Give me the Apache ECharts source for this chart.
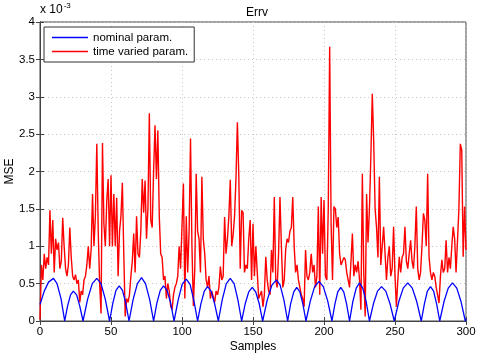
<!DOCTYPE html>
<html>
<head>
<meta charset="utf-8">
<script src="https://cdn.jsdelivr.net/npm/echarts@6/dist/echarts.min.js"></script>
<style>
  html, body { margin: 0; padding: 0; background: #fff; }
  #chart { width: 484px; height: 360px; }
</style>
</head>
<body>
<div id="chart"></div>
<script>
// values are in units of 1e-3 (axis shows "x 10^-3")
var legendNames = ['nominal param.', 'time varied param.'];
var xTicks = [0, 50, 100, 150, 200, 250, 300];

// nominal param.: [sample, MSE] read at the valleys, flanks and tops of each hump
var nominalPts = [
    [0, 0.22], [3, 0.4], [6, 0.52], [9.5, 0.57], [12, 0.5], [14.8, 0.3], [17.4, 0],
    [19.4, 0.2], [21.5, 0.35], [23.5, 0.4], [25.8, 0.35], [28, 0.2], [30.3, 0],
    [33.5, 0.29], [36.8, 0.5], [40, 0.57], [43, 0.5], [46, 0.29], [49, 0],
    [51.3, 0.24], [53.5, 0.41], [55.8, 0.47], [58.1, 0.41], [60.4, 0.24], [62.7, 0],
    [65.6, 0.29], [68.6, 0.5], [71.5, 0.58], [74.3, 0.5], [77.2, 0.29], [80, 0],
    [82.3, 0.24], [84.7, 0.41], [87, 0.47], [89.5, 0.41], [92, 0.24], [94.4, 0],
    [97.3, 0.28], [100.1, 0.49], [103, 0.56], [105.7, 0.49], [108.3, 0.28], [111, 0],
    [113.3, 0.23], [115.7, 0.4], [118, 0.46], [120.5, 0.4], [123, 0.23], [125.6, 0],
    [128.4, 0.29], [131.2, 0.5], [134, 0.57], [136.7, 0.5], [139.3, 0.29], [142, 0],
    [144.5, 0.23], [147, 0.39], [149.5, 0.45], [151.9, 0.39], [154.4, 0.23], [156.8, 0],
    [160, 0.28], [163.3, 0.48], [166.5, 0.55], [169.1, 0.48], [171.8, 0.28], [174.4, 0],
    [176.5, 0.23], [178.7, 0.39], [180.8, 0.45], [183, 0.39], [185.1, 0.23], [187.3, 0],
    [190.4, 0.27], [193.4, 0.46], [196.5, 0.53], [199.5, 0.46], [202.6, 0.27], [205.6, 0],
    [207.7, 0.23], [209.7, 0.39], [211.8, 0.45], [213.9, 0.39], [215.9, 0.23], [218, 0],
    [220.3, 0.26], [222.7, 0.44], [225, 0.51], [227.3, 0.44], [229.7, 0.26], [232, 0],
    [234.8, 0.23], [237.7, 0.4], [240.5, 0.46], [243.5, 0.4], [246.5, 0.23], [249.5, 0],
    [252.7, 0.26], [255.8, 0.44], [259, 0.51], [262.2, 0.44], [265.3, 0.26], [268.5, 0],
    [270.7, 0.23], [272.8, 0.4], [275, 0.46], [277.2, 0.4], [279.3, 0.23], [281.5, 0],
    [284.5, 0.26], [287.5, 0.44], [290.5, 0.51], [293.5, 0.44], [296.5, 0.26], [299.5, 0], [300, 0.03]
];

// time varied param.: one value per sample 0..300
var variedVals = [
    0.02, 0.75, 0.55, 0.9, 0.7, 0.85, 0.75, 1.48, 0.9, 1.35,
    0.65, 1.1, 0.95, 1.05, 0.7, 0.8, 1.38, 1.0, 0.7, 0.6,
    0.75, 1.25, 0.85, 0.6, 0.55, 0.62, 0.5, 0.55, 0.25, 0.4,
    0.35, 0.55, 0.6, 0.75, 1.0, 0.7, 0.95, 1.7, 1.0, 1.4,
    2.37, 1.2, 0.5, 0.1, 2.38, 1.3, 1.0, 1.6, 1.9, 1.0,
    1.95, 1.0, 1.7, 1.0, 1.65, 0.6, 1.2, 1.4, 1.85, 0.9,
    0.06, 0.3, 0.25, 0.35, 0.6, 0.8, 1.17, 0.65, 1.4, 0.9,
    0.85, 1.2, 1.9, 1.45, 1.88, 1.1, 1.5, 2.78, 1.35, 1.25,
    2.0, 2.62, 1.9, 2.55, 1.4, 0.9, 0.85, 0.55, 0.6, 0.3,
    0.5, 0.4, 0.2, 0.15, 0.35, 0.45, 0.5, 0.6, 1.0, 0.7,
    0.7, 1.84, 0.3, 1.4, 0.65, 1.2, 2.44, 1.0, 0.2, 0.7,
    1.97, 1.2, 1.1, 0.65, 1.93, 1.1, 0.9, 0.55, 0.45, 0.6,
    0.3, 0.4, 0.4, 0.25, 0.4, 0.35, 0.45, 0.73, 0.55, 0.6,
    1.39, 0.9, 1.1, 1.4, 1.89, 1.0, 1.15, 1.4, 1.9, 2.66,
    1.95, 0.7, 1.48, 1.45, 0.65, 0.75, 0.7, 1.1, 1.35, 0.55,
    1.3, 0.6, 1.0, 0.65, 0.3, 0.35, 0.4, 0.19, 0.35, 0.86,
    0.55, 0.4, 0.35, 0.95, 0.65, 1.66, 0.55, 0.45, 0.9, 1.66,
    1.0, 0.45, 0.55, 0.95, 1.1, 1.05, 1.2, 1.25, 1.66, 1.0,
    0.65, 0.75, 0.55, 0.45, 0.35, 0.3, 0.19, 0.95, 0.6, 0.55,
    0.65, 0.9, 0.65, 0.75, 0.45, 0.6, 1.53, 0.35, 1.66, 0.9,
    1.62, 0.6, 0.55, 1.5, 3.67, 1.3, 0.55, 1.53, 1.5, 1.25,
    1.39, 0.9, 0.75, 0.8, 0.85, 0.82, 0.65, 0.55, 0.45, 0.8,
    1.17, 0.6, 0.75, 0.65, 0.8, 0.55, 0.15, 1.97, 0.65, 0.06,
    1.7, 1.05, 1.5, 2.2, 3.04, 2.4, 1.5, 1.25, 0.85, 1.93,
    0.75, 1.0, 1.26, 0.9, 0.55, 0.85, 1.0, 0.6, 0.7, 1.26,
    0.6, 0.19, 0.55, 0.86, 0.65, 0.85, 0.9, 1.26, 0.8, 0.7,
    0.9, 1.08, 0.8, 0.7, 1.0, 1.53, 0.7, 0.55, 0.65, 1.0,
    1.44, 1.35, 1.0, 1.97, 0.85, 0.65, 0.55, 0.65, 0.6, 0.45,
    0.35, 0.24, 0.6, 0.82, 0.65, 0.7, 1.08, 0.65, 0.85, 0.7,
    1.0, 1.26, 1.1, 0.65, 0.65, 1.5, 2.37, 2.29, 0.86, 1.53,
    0.95
];

var font = '"Liberation Sans", Arial, sans-serif';
var gridLine = {show: true, lineStyle: {color: '#c8c8c8', type: [1, 3], width: 1}};

var myChart = echarts.init(document.getElementById('chart'));
var option = {
    backgroundColor: '#fff',
    animation: false,
    textStyle: {fontFamily: font, color: '#000'},
    title: {
        text: 'Errv',
        left: 241,
        top: 2,
        textStyle: {fontSize: 12, fontWeight: 'normal', color: '#000', fontFamily: font}
    },
    graphic: [
        {
            type: 'text',
            left: 40,
            top: 2,
            style: {
                text: 'x 10{s|-3}',
                font: '12px ' + font,
                fill: '#000',
                rich: {s: {fontSize: 8, verticalAlign: 'top', padding: [0, 0, 8, 1], fill: '#000'}}
            }
        }
    ],
    legend: {
        data: legendNames,
        orient: 'vertical',
        left: 44,
        top: 27,
        icon: 'rect',
        itemWidth: 36,
        itemHeight: 1.5,
        itemGap: 1,
        padding: [4, 6, 4, 8],
        backgroundColor: '#fff',
        borderColor: '#333',
        borderWidth: 1,
        borderRadius: 0,
        textStyle: {fontSize: 11.5, color: '#000', fontFamily: font, lineHeight: 13}
    },
    grid: {left: 40, right: 18, top: 22, bottom: 39, containLabel: false, outerBoundsMode: 'none',
        show: true, borderColor: '#444', borderWidth: 1, backgroundColor: '#fff'},
    xAxis: [
        {
            type: 'value', min: 0, max: 300, interval: 50,
            name: 'Samples', nameLocation: 'middle', nameGap: 20, nameMoveOverlap: false,
            nameTextStyle: {fontSize: 12, color: '#000'},
            axisLine: {show: true, lineStyle: {color: '#444'}},
            axisTick: {show: true, inside: true, length: 4, lineStyle: {color: '#444'}},
            axisLabel: {fontSize: 11.5, color: '#000', margin: 5,
                formatter: function (v) { return xTicks.indexOf(v) >= 0 ? String(v) : ''; }},
            splitLine: gridLine
        },
        {
            type: 'value', min: 0, max: 300, interval: 50, position: 'top',
            axisLine: {show: true, lineStyle: {color: '#444'}},
            axisTick: {show: true, inside: true, length: 4, lineStyle: {color: '#444'}},
            axisLabel: {show: false},
            splitLine: {show: false}
        }
    ],
    yAxis: [
        {
            type: 'value', min: 0, max: 4, interval: 0.5,
            name: 'MSE', nameLocation: 'middle', nameGap: 24, nameRotate: 90, nameMoveOverlap: false,
            nameTextStyle: {fontSize: 12, color: '#000'},
            axisLine: {show: true, lineStyle: {color: '#444'}},
            axisTick: {show: true, inside: true, length: 4, lineStyle: {color: '#444'}},
            axisLabel: {fontSize: 11.5, color: '#000', margin: 5},
            splitLine: gridLine
        },
        {
            type: 'value', min: 0, max: 4, interval: 0.5, position: 'right',
            axisLine: {show: true, lineStyle: {color: '#444'}},
            axisTick: {show: true, inside: true, length: 4, lineStyle: {color: '#444'}},
            axisLabel: {show: false},
            splitLine: {show: false}
        }
    ],
    series: [
        {
            name: legendNames[0],
            type: 'line',
            symbol: 'none',
            z: 3,
            lineStyle: {color: '#0000ff', width: 1.3},
            itemStyle: {color: '#0000ff'},
            data: nominalPts
        },
        {
            name: legendNames[1],
            type: 'line',
            symbol: 'none',
            z: 2,
            lineStyle: {color: '#ff0000', width: 1.4},
            itemStyle: {color: '#ff0000'},
            data: variedVals.map(function (v, i) { return [i, v]; })
        }
    ]
};
myChart.setOption(option);
</script>
</body>
</html>
